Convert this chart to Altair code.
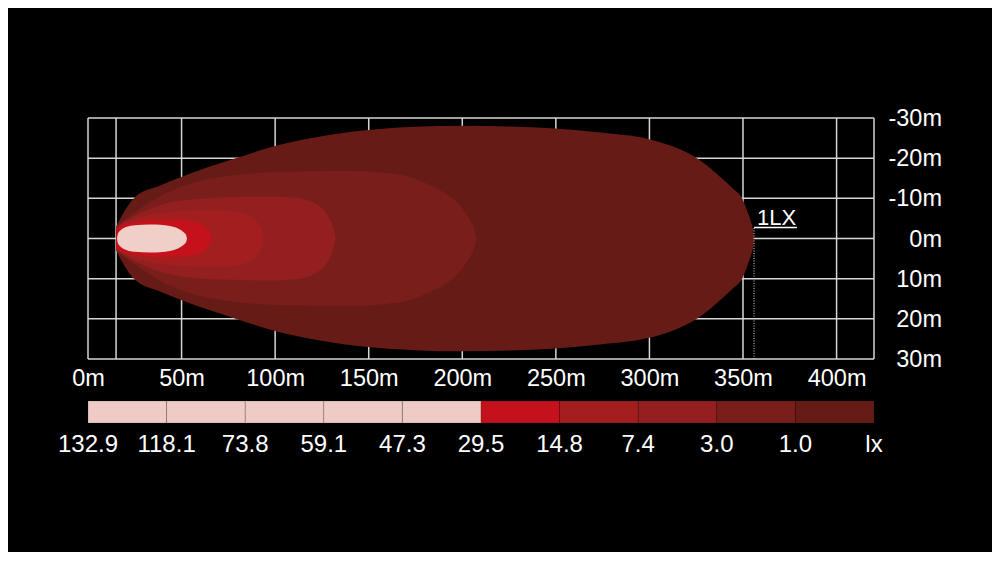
import altair as alt
import pandas as pd

# ---------------- data ----------------
X_TICKS = [0, 50, 100, 150, 200, 250, 300, 350, 400]
X_GRID = [0, 15, 50, 100, 150, 200, 250, 300, 350, 400, 420]
Y_TICKS = [-30, -20, -10, 0, 10, 20, 30]
Y_LABELS = ["-30m", "-20m", "-10m", "0m", "10m", "20m", "30m"]

# iso-lux contours: distance (m) and half beam width (m)
OUTER_X = [15.2, 18.2, 25.1, 38.5, 50.1, 78.5, 99.9, 124.0, 149.6, 174.7, 199.9, 225.5,
           249.5, 273.6, 299.2, 316.3, 327.0, 337.7, 344.7, 349.5, 352.7, 354.5, 355.5, 355.9]
OUTER_H = [3.1, 5.8, 10.3, 13.2, 15.4, 19.9, 23.0, 25.4, 27.0, 27.8, 28.1, 27.9,
           27.4, 26.4, 24.8, 22.2, 19.5, 15.4, 12.4, 10.0, 6.3, 3.8, 1.8, 0.0]

SEG9_X = [15.2, 19.8, 27.8, 38.5, 54.5, 75.9, 97.3, 113.3, 140.0, 166.7, 184.4, 193.4,
          198.8, 204.2, 206.3, 207.6]
SEG9_H = [3.0, 4.7, 7.4, 10.5, 13.6, 15.6, 16.5, 16.7, 16.8, 15.9, 12.9, 10.5,
          8.2, 4.5, 2.5, 0.0]

SEG8_X = [15.2, 19.8, 27.8, 38.5, 54.5, 75.9, 97.3, 113.3, 121.3, 126.6, 129.8, 131.4, 132.2]
SEG8_H = [2.9, 4.3, 6.3, 8.3, 9.7, 10.3, 10.45, 10.0, 8.7, 6.7, 4.2, 2.0, 0.0]

SEG7_X = [15.2, 19.8, 27.8, 38.5, 54.5, 70.5, 81.2, 87.6, 91.4, 93.2, 94.0]
SEG7_H = [2.7, 4.0, 5.3, 6.3, 6.9, 7.0, 6.5, 5.2, 3.5, 1.7, 0.0]

RED_X = [15.2, 19.8, 27.8, 38.5, 49.2, 57.2, 62.0, 64.7, 66.3]
RED_H = [2.5, 3.5, 4.2, 4.65, 4.6, 4.1, 3.1, 1.75, 0.0]

PINK_X = [15.5, 16.0, 17.6, 20.8, 25.1, 33.1, 38.5, 43.8, 48.1, 50.8, 52.4, 52.9]
PINK_H = [0.0, 1.2, 2.1, 2.9, 3.3, 3.5, 3.4, 3.1, 2.5, 1.7, 0.9, 0.0]

REGION_COLORS = ["#661B16", "#7A1E1B", "#941F20", "#A31E1F", "#C4111B", "#EFCFC8"]

LEGEND_LABELS = ["132.9", "118.1", "73.8", "59.1", "47.3", "29.5", "14.8", "7.4", "3.0", "1.0", "lx"]
LEGEND_COLORS = ["#EECBC4", "#EECBC4", "#EECBC4", "#EECBC4", "#EECBC4",
                 "#C4111B", "#A31E1F", "#941F20", "#7A1E1B", "#661B16"]

REACH_1LX = [355.9]

# ---------------- styling ----------------
W, H = 786, 241
FONT = "Liberation Sans"
GRID = "#D6D6D6"
TXT = "#FFFFFF"

xscale = alt.Scale(domain=[0, 420], nice=False, zero=False)
yscale = alt.Scale(domain=[-30, 30], reverse=True, nice=False, zero=False)

ax_x = alt.Axis(values=X_TICKS, labelExpr="datum.value + 'm'", ticks=False, tickSize=0,
                domain=False, grid=False, labelColor=TXT, labelFontSize=23.5, labelFont=FONT,
                labelPadding=26, labelBaseline="alphabetic", labelFlush=False,
                labelOverlap=False, title=None)

# grid
vgrid = alt.Chart(pd.DataFrame({"x": X_GRID})).mark_rule(color=GRID, strokeWidth=1.5).encode(
    x=alt.X("x:Q", scale=xscale, axis=ax_x), y=alt.value(0), y2=alt.value(H))
hgrid = alt.Chart(pd.DataFrame({"y": Y_TICKS})).mark_rule(color=GRID, strokeWidth=1.5).encode(
    y=alt.Y("y:Q", scale=yscale, axis=None), x=alt.value(0), x2=alt.value(W))
ylab = alt.Chart(pd.DataFrame({"y": Y_TICKS, "t": Y_LABELS})).mark_text(
    color=TXT, font=FONT, fontSize=23.5, align="right", baseline="middle", dy=1).encode(
    y=alt.Y("y:Q", scale=yscale, axis=None), x=alt.value(854), text="t:N")

layers = [vgrid, hgrid, ylab]
regions = [(OUTER_X, OUTER_H), (SEG9_X, SEG9_H), (SEG8_X, SEG8_H),
           (SEG7_X, SEG7_H), (RED_X, RED_H), (PINK_X, PINK_H)]
for (xs, hs), col in zip(regions, REGION_COLORS):
    df = pd.DataFrame({"x": xs, "lo": [-h for h in hs], "hi": hs})
    layers.append(
        alt.Chart(df).mark_area(color=col, interpolate="monotone", opacity=1).encode(
            x=alt.X("x:Q", scale=xscale, axis=None),
            y=alt.Y("lo:Q", scale=yscale, axis=None, stack=None),
            y2="hi:Q",
        )
    )

# 1LX annotation
dfr = pd.DataFrame({"x": REACH_1LX, "t": ["1LX"]})
layers.append(alt.Chart(dfr).mark_rule(color="#D0D0D0", strokeWidth=1, strokeDash=[1, 1.5]).encode(
    x=alt.X("x:Q", scale=xscale, axis=None), y=alt.value(110), y2=alt.value(H)))
layers.append(alt.Chart(dfr).mark_rule(color=TXT, strokeWidth=1.5).encode(
    x=alt.X("x:Q", scale=xscale, axis=None), x2=alt.value(709), y=alt.value(109.5)))
layers.append(alt.Chart(dfr).mark_text(color=TXT, font=FONT, fontSize=22, align="left",
                                        baseline="alphabetic", dx=3).encode(
    x=alt.X("x:Q", scale=xscale, axis=None), y=alt.value(107), text="t:N"))

# colour bar legend
lscale = alt.Scale(domain=[0, len(LEGEND_COLORS)], nice=False, zero=False)
dleg = pd.DataFrame({"i0": list(range(len(LEGEND_COLORS))),
                     "i1": [i + 1 for i in range(len(LEGEND_COLORS))],
                     "c": LEGEND_COLORS})
layers.append(alt.Chart(dleg).mark_rect(stroke="#000000", strokeOpacity=0.15, strokeWidth=1).encode(
    x=alt.X("i0:Q", scale=lscale, axis=None), x2="i1:Q",
    y=alt.value(283), y2=alt.value(305),
    color=alt.Color("c:N", scale=None, legend=None)))
dlab = pd.DataFrame({"i": list(range(len(LEGEND_LABELS))), "t": LEGEND_LABELS})
layers.append(alt.Chart(dlab).mark_text(color=TXT, font=FONT, fontSize=24, align="center",
                                         baseline="alphabetic").encode(
    x=alt.X("i:Q", scale=lscale, axis=None), y=alt.value(334), text="t:N"))

chart = alt.layer(*layers).resolve_scale(x="independent").properties(
    width=W, height=H,
    padding={"left": 80, "top": 110, "right": 118, "bottom": 193},
    autosize=alt.AutoSizeParams(type="none"),
).configure(background="#000000").configure_view(strokeWidth=0)

chart.save("out.html", embed_options={"renderer": "svg", "actions": False})
